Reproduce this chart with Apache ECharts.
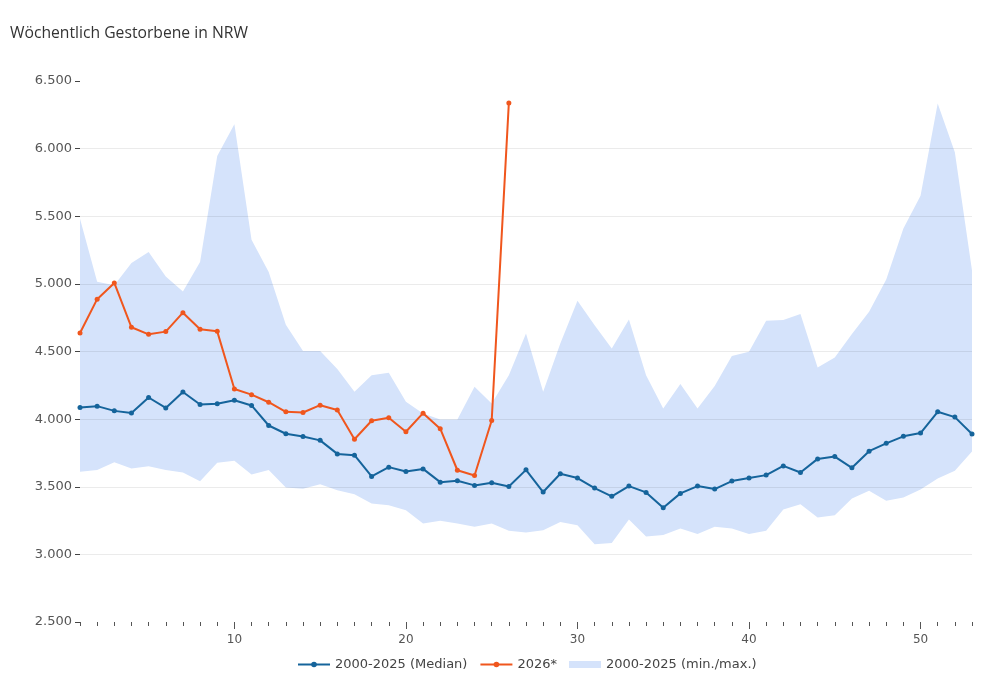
<!DOCTYPE html>
<html lang="de" style="height: 100%">
<head>
  <meta charset="utf-8">
</head>
<body style="height: 100%; margin: 0">
  <div id="container" style="height: 100%"></div>

  <script type="text/javascript" src="https://cdn.jsdelivr.net/npm/echarts@6/dist/echarts.min.js"></script>

  <script type="text/javascript">
    // Kalenderwochen 1..53
    var weeks = [];
    for (var w = 1; w <= 53; w++) weeks.push(w);

    var median = [
      4086, 4096, 4061, 4046, 4160, 4083, 4201, 4108, 4113, 4140,
      4101, 3953, 3892, 3872, 3843, 3743, 3733, 3576, 3645, 3613,
      3632, 3534, 3544, 3510, 3529, 3502, 3625, 3461, 3596, 3564,
      3490, 3429, 3505, 3458, 3345, 3451, 3505, 3483, 3542, 3564,
      3586, 3654, 3605, 3706, 3723, 3640, 3763, 3821, 3873, 3897,
      4054, 4015, 3890
    ];

    var year2026 = [
      4637, 4887, 5007, 4679, 4627, 4647, 4787, 4664, 4649, 4223,
      4181, 4125, 4054, 4049, 4103, 4068, 3851, 3988, 4010, 3907,
      4044, 3929, 3622, 3583, 3990, 6338
    ];

    var bandMin = [
      3610, 3623, 3682, 3635, 3652, 3623, 3606, 3541, 3677, 3692,
      3591, 3623, 3495, 3485, 3519, 3475, 3445, 3376, 3364, 3327,
      3228, 3248, 3228, 3204, 3228, 3174, 3162, 3179, 3240, 3216,
      3075, 3085, 3258, 3132, 3143, 3192, 3150, 3204, 3192, 3150,
      3174, 3332, 3371, 3273, 3290, 3413, 3470, 3396, 3421, 3480,
      3561, 3618, 3760
    ];

    var bandMax = [
      5481, 5015, 4990, 5154, 5236, 5055, 4944, 5162, 5945, 6180,
      5327, 5088, 4697, 4504, 4504, 4370, 4202, 4325, 4342, 4128,
      4042, 3998, 3998, 4239, 4116, 4325, 4634, 4202, 4560, 4875,
      4695, 4523, 4737, 4325, 4079, 4259, 4079, 4244, 4466, 4498,
      4727, 4732, 4777, 4382, 4456, 4629, 4793, 5033, 5410, 5652,
      6333, 5973, 5099
    ];

    var xLabels = [10, 20, 30, 40, 50];

    var blue = '#15649b';
    var orange = '#f0561d';
    var band = '#d5e3fb';
    var font = 'DejaVu Sans';

    function fmt(v) {
      return String(v).replace(/\B(?=(\d{3})+(?!\d))/g, '.');
    }

    var dom = document.getElementById('container');
    var myChart = echarts.init(dom, null, { renderer: 'canvas' });
    var option;

    option = {
      animation: false,
      title: {
        text: 'Wöchentlich Gestorbene in NRW',
        left: 5,
        top: 21,
        textStyle: {
          fontFamily: 'Open Sans',
          fontSize: 15.7,
          fontWeight: 'normal',
          color: '#333'
        }
      },
      grid: { left: 80, right: 28, top: 81, bottom: 55 },
      legend: {
        bottom: 1,
        left: 292,
        itemWidth: 32,
        itemHeight: 7,
        itemGap: 12,
        textStyle: { fontFamily: font, fontSize: 13, color: '#444' },
        data: [
          { name: '2000-2025 (Median)' },
          { name: '2026*' },
          { name: '2000-2025 (min./max.)', icon: 'rect' }
        ]
      },
      xAxis: [
        {
          type: 'category',
          data: weeks,
          boundaryGap: false,
          axisLine: { show: false },
          splitLine: { show: false },
          axisLabel: { show: false },
          axisTick: {
            show: true,
            length: 4,
            interval: 0,
            lineStyle: { color: '#555' }
          }
        },
        {
          type: 'value',
          min: 1,
          max: 53,
          position: 'bottom',
          axisLine: { show: false },
          splitLine: { show: false },
          axisTick: {
            show: true,
            length: 7,
            customValues: xLabels,
            lineStyle: { color: '#555' }
          },
          axisLabel: {
            customValues: xLabels,
            margin: 12,
            fontFamily: font,
            fontSize: 12,
            color: '#555'
          }
        }
      ],
      yAxis: {
        type: 'value',
        min: 2500,
        max: 6500,
        interval: 500,
        z: 2,
        axisLine: { show: false },
        axisTick: { show: true, length: 5, lineStyle: { color: '#444' } },
        axisLabel: {
          margin: 8,
          fontFamily: font,
          fontSize: 13,
          color: '#555',
          formatter: fmt
        },
        splitLine: {
          show: true,
          showMinLine: false,
          showMaxLine: false,
          lineStyle: { color: 'rgba(0,0,0,0.08)', width: 1 }
        }
      },
      series: [
        {
          name: 'bandBase',
          type: 'line',
          stack: 'band',
          data: bandMin,
          showSymbol: false,
          symbol: 'none',
          lineStyle: { width: 0 },
          silent: true,
          z: 1
        },
        {
          name: '2000-2025 (min./max.)',
          type: 'line',
          stack: 'band',
          data: bandMax.map(function (v, i) { return v - bandMin[i]; }),
          showSymbol: false,
          symbol: 'none',
          itemStyle: { color: band },
          lineStyle: { width: 0, color: band },
          areaStyle: { color: band, opacity: 1 },
          silent: true,
          z: 1
        },
        {
          name: '2000-2025 (Median)',
          type: 'line',
          data: median,
          symbol: 'circle',
          symbolSize: 5,
          itemStyle: { color: blue },
          lineStyle: { color: blue, width: 2 },
          z: 3
        },
        {
          name: '2026*',
          type: 'line',
          data: year2026,
          symbol: 'circle',
          symbolSize: 5,
          itemStyle: { color: orange },
          lineStyle: { color: orange, width: 2 },
          z: 4
        }
      ]
    };

    if (option && typeof option === 'object') {
      myChart.setOption(option);
    }

    window.addEventListener('resize', myChart.resize);
  </script>
</body>
</html>
